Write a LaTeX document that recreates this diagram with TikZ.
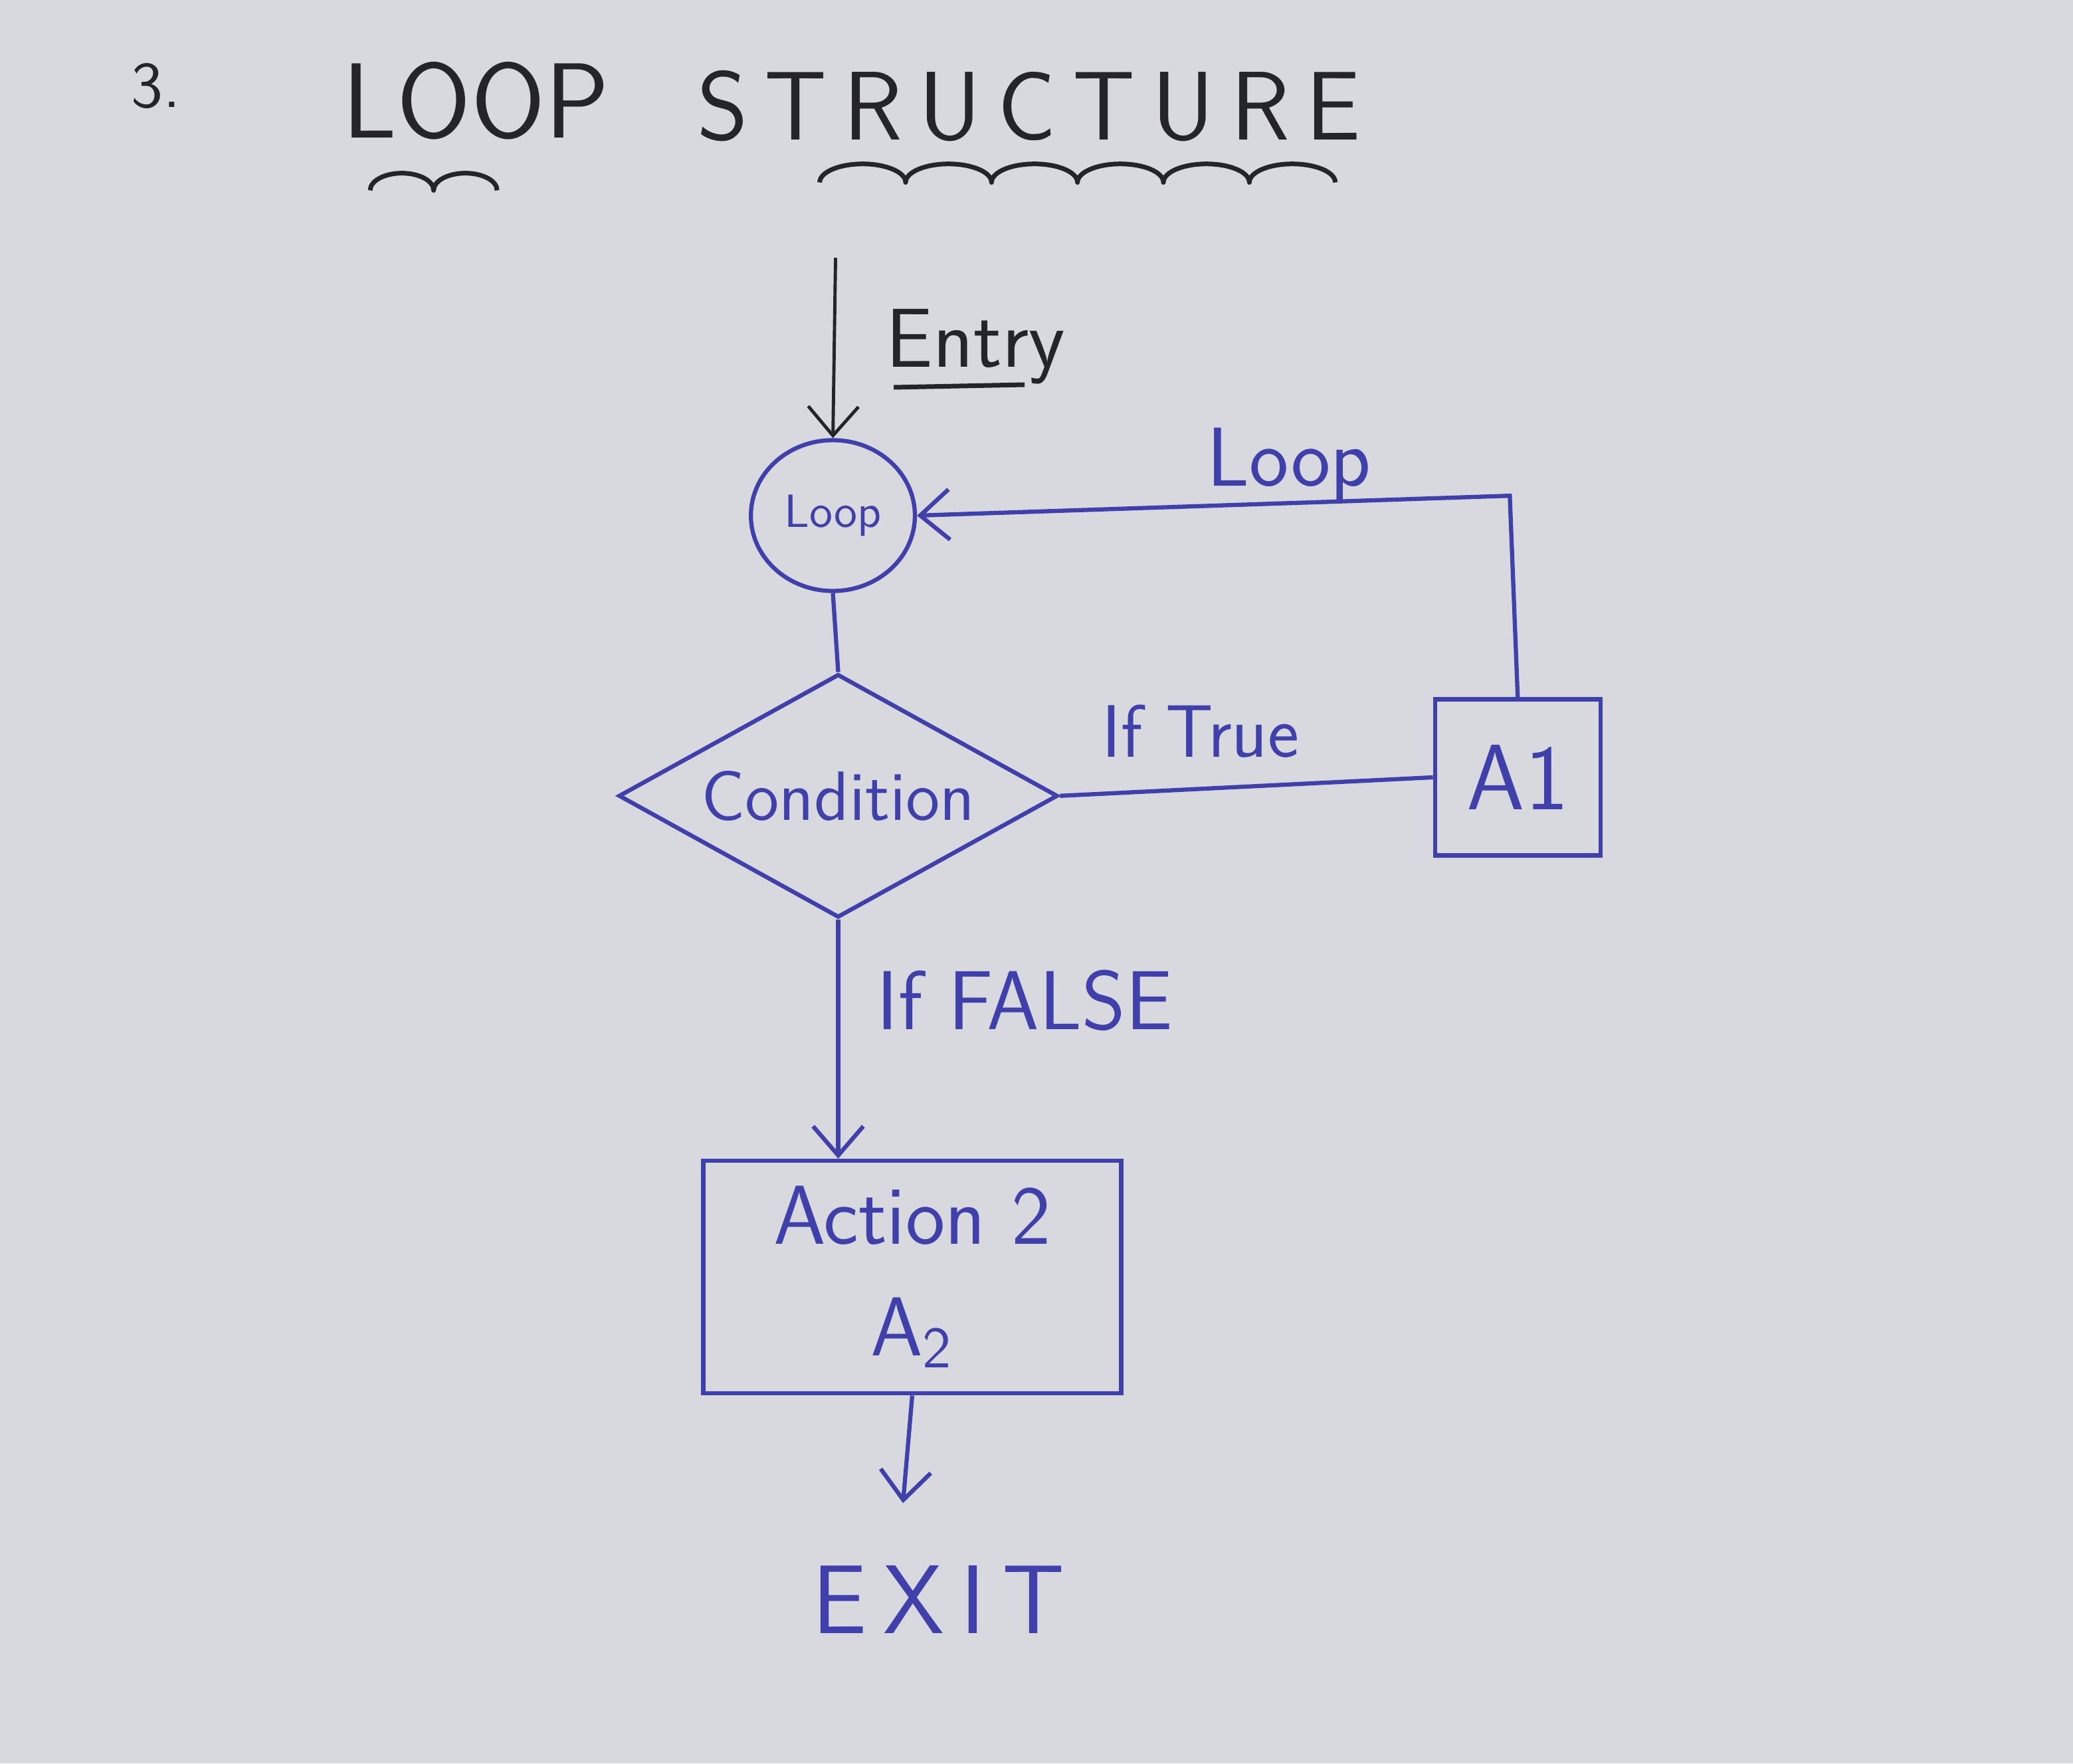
\documentclass[tikz,border=0pt]{standalone}
\usetikzlibrary{shapes.geometric,arrows.meta}
\definecolor{paper}{RGB}{216,217,222}
\definecolor{ink}{RGB}{64,64,172}
\definecolor{pencil}{RGB}{36,36,42}
\newcommand{\handsize}[2]{\sffamily\fontsize{#1}{#2}\selectfont}
\tikzset{
  loopsec/.style={x=0.01cm,y=-0.01cm,line width=0.9pt,
    >={Straight Barb[length=2.2mm,width=3.8mm]}},
  flowbox/.style={draw=ink,text=ink,align=center,inner sep=1pt},
  flowlabel/.style={text=ink,font=\handsize{18}{22}},
  wavy/.style={pencil,line width=1pt,line join=round}
}

\begin{document}
\begin{tikzpicture}[loopsec]
    \fill[paper] (0,0) rectangle (1568,1334);
    \useasboundingbox (0,0) rectangle (1568,1334);
    % title
    \node[text=pencil,font=\handsize{14}{17}] (num) at (118,65) {3.};
    \node[text=pencil,font=\handsize{23}{28},anchor=west] (title1) at (246,76) {LOOP};
    \node[text=pencil,font=\handsize{21}{26},anchor=west] (title2) at (514,80) {S\,T\,R\,U\,C\,T\,U\,R\,E};
    \draw[wavy] (280,144) \foreach \k in {1,2} {arc[start angle=180,end angle=360,x radius=24,y radius=13]};
    \draw[wavy] (620,138) \foreach \k in {1,...,6} {arc[start angle=180,end angle=360,x radius=32.5,y radius=14]};
    % nodes
    \node[ellipse,flowbox,minimum width=1.24cm,minimum height=1.14cm,font=\handsize{10}{12}] (loop) at (630,390) {Loop};
    \node[diamond,flowbox,aspect=1.8,minimum width=3.32cm,minimum height=1.84cm,inner sep=0pt,font=\handsize{15}{18}] (cond) at (634,602) {Condition};
    \node[flowbox,minimum width=1.25cm,minimum height=1.18cm,font=\handsize{20}{24}] (a1) at (1148,588) {A1};
    \node[flowbox,minimum width=3.16cm,minimum height=1.76cm,font=\handsize{18}{24}] (act) at (690,966) {Action 2\\A\textsubscript{2}};
    \node[text=ink,font=\handsize{21}{26}] (exit) at (710,1210) {E\,X\,I\,T};
    % labels
    \node[text=pencil,font=\handsize{18}{22}] (entrylbl) at (738,262) {Entry};
    \draw[pencil,line width=1pt] (676,293) -- (775,291);
    \node[flowlabel] (looplbl) at (975,352) {Loop};
    \node[flowlabel,font=\handsize{16}{20}] (truelbl) at (908,553) {If True};
    \node[flowlabel] (falselbl) at (775,757) {If FALSE};
    % connectors
    \coordinate (entry) at (632,195);
    \coordinate (bend) at (1142,375);
    \coordinate (exittip) at (683,1137);
    \draw[pencil,line width=0.7pt,->] (entry) -- (loop.north);
    \draw[ink,->] (a1.north) -- (bend) -- (loop.east);
    \draw[ink] (loop.south) -- (cond.north);
    \draw[ink] (cond.east) -- (a1.west);
    \draw[ink,->] (cond.south) -- (cond.south |- act.north);
    \draw[ink,->] (act.south) -- (exittip);
\end{tikzpicture}
\end{document}
